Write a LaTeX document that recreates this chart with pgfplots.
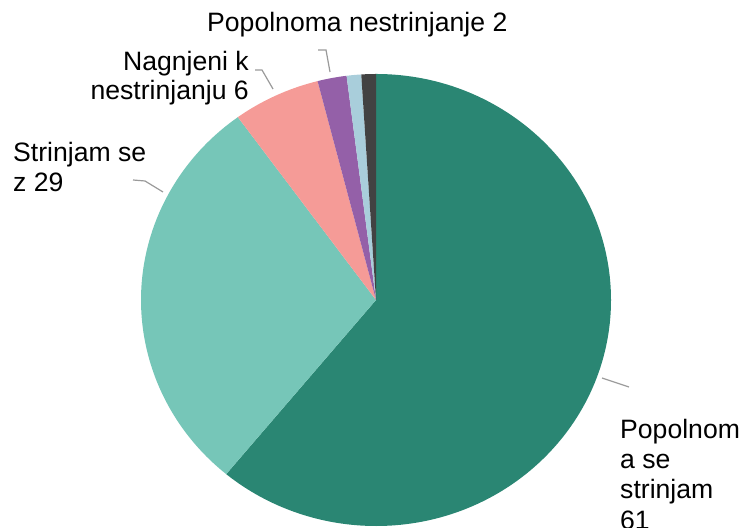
\documentclass[border=0pt]{standalone}
\usepackage{pgfplots}
\pgfplotsset{compat=1.18}
\usepackage{pgfplotstable}
\usepackage{fontspec}
\setmainfont{Liberation Sans}
\definecolor{cA}{HTML}{2A8673}
\definecolor{cB}{HTML}{76C6B8}
\definecolor{cC}{HTML}{F59B97}
\definecolor{cD}{HTML}{9460A8}
\definecolor{cE}{HTML}{A9CEDB}
\definecolor{cF}{HTML}{424242}
\definecolor{leader}{HTML}{9A9A9A}
\pgfplotstableread{
label value
A 61
B 29
C 6
D 2
E 1
F 1
}\piedata
\newcommand\lab{\fontsize{26.7}{30}\selectfont}
\newcommand\getv[2]{\pgfplotstablegetelem{#1}{value}\of\piedata\pgfmathsetmacro#2{\pgfplotsretval}}
\newcommand\slice[3]{%
  \pgfmathsetmacro\sx{376+235*cos(#1)}%
  \pgfmathsetmacro\sy{228+226*sin(#1)}%
  \edef\temp{\noexpand\fill[#3] (axis cs:376,228) -- (axis cs:\sx,\sy) arc[start angle=#1, end angle=#2, x radius=235bp, y radius=226bp] -- cycle;}%
  \temp}
\begin{document}
\begin{tikzpicture}
\getv{0}\vA \getv{1}\vB \getv{2}\vC \getv{3}\vD \getv{4}\vE \getv{5}\vF
\pgfmathsetmacro\aA{90}
\pgfmathsetmacro\aB{\aA-3.6*\vA}
\pgfmathsetmacro\aC{\aB-3.6*\vB}
\pgfmathsetmacro\aD{\aC-3.6*\vC}
\pgfmathsetmacro\aE{\aD-3.6*\vD}
\pgfmathsetmacro\aF{\aE-3.6*\vE}
\pgfmathsetmacro\aG{\aF-3.6*\vF}
\begin{axis}[hide axis, x=1bp, y=1bp, xmin=0, xmax=742, ymin=0, ymax=528,
  clip=false, at={(0,0)}, anchor=origin]
\coordinate (BL) at (axis cs:0,0);
\coordinate (TR) at (axis cs:742,528);
\slice{\aA}{\aB}{cA}
\slice{\aB}{\aC}{cB}
\slice{\aC}{\aD}{cC}
\slice{\aD}{\aE}{cD}
\slice{\aE}{\aF}{cE}
\slice{\aF}{\aG}{cF}
% leader lines
\draw[leader, line width=1.2bp] (axis cs:318,478) -- (axis cs:326,478) -- (axis cs:330,456);
\draw[leader, line width=1.2bp] (axis cs:255,458) -- (axis cs:262,458) -- (axis cs:273,439);
\draw[leader, line width=1.2bp] (axis cs:133,348) -- (axis cs:145,347) -- (axis cs:163,336);
\draw[leader, line width=1.2bp] (axis cs:602,150) -- (axis cs:620,144) -- (axis cs:629,141);
% labels
\node[anchor=base west, inner sep=0, font=\lab] at (axis cs:207,496) {Popolnoma nestrinjanje 2};
\node[anchor=base east, inner sep=0, font=\lab] at (axis cs:249,457) {Nagnjeni k};
\node[anchor=base east, inner sep=0, font=\lab] at (axis cs:249,428) {nestrinjanju 6};
\node[anchor=base west, inner sep=0, font=\lab] at (axis cs:13,366) {Strinjam se};
\node[anchor=base west, inner sep=0, font=\lab] at (axis cs:13,336) {z 29};
\node[anchor=base west, inner sep=0, font=\lab] at (axis cs:620,89) {Popolnom};
\node[anchor=base west, inner sep=0, font=\lab] at (axis cs:620,59) {a se};
\node[anchor=base west, inner sep=0, font=\lab] at (axis cs:620,29) {strinjam};
\node[anchor=base west, inner sep=0, font=\lab] at (axis cs:620,-2) {61};
\end{axis}
\pgfresetboundingbox
\useasboundingbox (BL) rectangle (TR);
\end{tikzpicture}
\end{document}
